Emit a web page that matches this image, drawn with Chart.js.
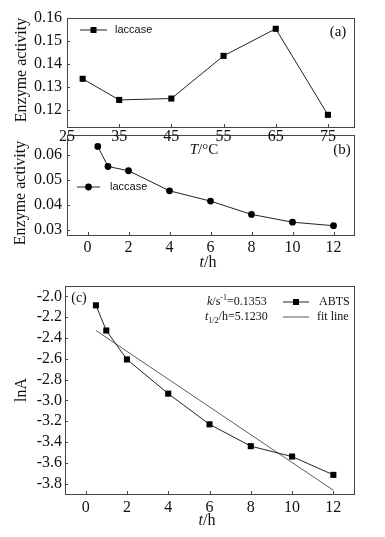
<!DOCTYPE html>
<html>
<head>
<meta charset="utf-8">
<script src="https://cdn.jsdelivr.net/npm/chart.js@4.4.1/dist/chart.umd.min.js"></script>
<style>
  html,body{margin:0;padding:0;background:#fff;}
  #wrap{position:relative;width:385px;height:537px;background:#fff;overflow:hidden;}
  #wrap canvas{position:absolute;left:0;}
</style>
</head>
<body>
<div id="wrap">
  <canvas id="cb" width="385" height="160" style="top:120px"></canvas>
  <canvas id="ca" width="385" height="160" style="top:0px"></canvas>
  <canvas id="cc" width="385" height="267" style="top:270px"></canvas>
</div>
<script>
// (a) activity vs temperature
const A_TEMP=[28,35,45,55,65,75];
const A_ACT=[0.1335,0.1243,0.1249,0.1435,0.1553,0.1178];
const A_XTICKS=[25,35,45,55,65,75];
const A_YTICKS=[0.12,0.13,0.14,0.15,0.16];

// (b) activity vs time
const B_TIME=[0.5,1,2,4,6,8,10,12];
const B_ACT=[0.0633,0.0553,0.0536,0.0456,0.0415,0.0362,0.0331,0.0317];
const B_XTICKS=[0,2,4,6,8,10,12];
const B_YTICKS=[0.03,0.04,0.05,0.06];

// (c) lnA vs time + fit
const C_TIME=[0.5,1,2,4,6,8,10,12];
const C_LNA=[-2.086,-2.328,-2.606,-2.935,-3.23,-3.44,-3.54,-3.716];
const FIT_T=[0.5,12];
const FIT_LNA=[-2.328,-3.864];
const C_XTICKS=[0,2,4,6,8,10,12];
const C_YTICKS=[-3.8,-3.6,-3.4,-3.2,-3.0,-2.8,-2.6,-2.4,-2.2,-2.0];

const SERIF='"Liberation Serif", "Times New Roman", serif';
const SANS='"Liberation Sans", Arial, sans-serif';
const INK='#222';

// draw a run of text pieces with their own font and vertical shift
function rich(ctx,x,y,parts,align){
  let w=0;
  parts.forEach(p=>{ ctx.font=p.f; w+=ctx.measureText(p.t).width; });
  let cx=align==='center'?x-w/2:x;
  ctx.textBaseline='middle'; ctx.textAlign='left'; ctx.fillStyle='#111';
  parts.forEach(p=>{
    ctx.font=p.f; ctx.fillText(p.t,cx,y+(p.dy||0));
    cx+=ctx.measureText(p.t).width;
  });
}

function vtext(ctx,x,y,txt,font){
  ctx.save(); ctx.translate(x,y); ctx.rotate(-Math.PI/2);
  ctx.font=font; ctx.fillStyle='#111'; ctx.textAlign='center'; ctx.textBaseline='middle';
  ctx.fillText(txt,0,0); ctx.restore();
}

function legLine(ctx,x1,x2,y,marker){
  ctx.strokeStyle=INK; ctx.lineWidth=1;
  ctx.beginPath(); ctx.moveTo(x1,y); ctx.lineTo(x2,y); ctx.stroke();
  ctx.fillStyle='#000';
  const m=(x1+x2)/2;
  if(marker==='rect') ctx.fillRect(m-3,y-3,6,6);
  if(marker==='circle'){ ctx.beginPath(); ctx.arc(m,y,3.4,0,Math.PI*2); ctx.fill(); }
}

// frame + inward tick marks + panel extras
function deco(extra){
  return {id:'deco',afterDraw(chart){
    const ctx=chart.ctx, a=chart.chartArea;
    ctx.save();
    ctx.strokeStyle='#444'; ctx.lineWidth=1;
    ctx.strokeRect(Math.round(a.left)+0.5,Math.round(a.top)+0.5,Math.round(a.right-a.left),Math.round(a.bottom-a.top));
    const xs=chart.scales.x, ys=chart.scales.y;
    ctx.beginPath();
    xs.ticks.forEach(t=>{ const px=Math.round(xs.getPixelForValue(t.value))+0.5;
      ctx.moveTo(px,a.bottom); ctx.lineTo(px,a.bottom-3); });
    ys.ticks.forEach(t=>{ const py=Math.round(ys.getPixelForValue(t.value))+0.5;
      ctx.moveTo(a.left,py); ctx.lineTo(a.left+3,py); });
    ctx.stroke();
    extra(ctx,chart);
    ctx.restore();
  }};
}

function axis(min,max,ticks,fmt,pad,size,fit,isX){
  return {type:'linear',min,max,
    grid:{display:false,drawTicks:false},
    border:{display:false},
    afterBuildTicks:s=>{ s.ticks=ticks.map(v=>({value:v})); },
    afterFit:s=>{ if(isX) s.height=fit; else s.width=fit; },
    ticks:{padding:pad,color:'#111',font:{family:SERIF,size},callback:v=>fmt(v)}};
}

function lineSet(xs,ys,style,r,width,color){
  return {data:xs.map((x,i)=>({x,y:ys[i]})),borderColor:color||INK,borderWidth:width||1,
    pointStyle:style,pointRadius:r,pointBackgroundColor:'#000',pointBorderWidth:0,
    tension:0,fill:false};
}

const base={responsive:false,animation:false,devicePixelRatio:1,
  plugins:{legend:{display:false},tooltip:{enabled:false}}};

// panel (b) — drawn underneath (a)
new Chart(document.getElementById('cb'),{type:'line',
  data:{datasets:[lineSet(B_TIME,B_ACT,'circle',3.4)]},
  options:{...base,layout:{padding:{left:0,top:7,right:31,bottom:0}},
    scales:{x:axis(-1,13,B_XTICKS,v=>String(v),3,16,45,true),
            y:axis(0.028,0.068,B_YTICKS,v=>v.toFixed(2),5,16,67,false)}},
  plugins:[deco((ctx)=>{
    vtext(ctx,21,73,'Enzyme activity','16px '+SERIF);
    rich(ctx,342,30,[{t:'(b)',f:'15px '+SERIF}],'center');
    legLine(ctx,77,100,67,'circle');
    rich(ctx,110,67,[{t:'laccase',f:'11px '+SANS}]);
    rich(ctx,208,143,[{t:'t',f:'italic 16px '+SERIF},{t:'/h',f:'16px '+SERIF}],'center');
  })]});

// panel (a)
new Chart(document.getElementById('ca'),{type:'line',
  data:{datasets:[lineSet(A_TEMP,A_ACT,'rect',4.3)]},
  options:{...base,layout:{padding:{left:0,top:18,right:31,bottom:0}},
    scales:{x:axis(25,80,A_XTICKS,v=>String(v),0,16,33,true),
            y:axis(0.1125,0.16,A_YTICKS,v=>v.toFixed(2),5,16,67,false)}},
  plugins:[deco((ctx)=>{
    vtext(ctx,22,70,'Enzyme activity','16px '+SERIF);
    rich(ctx,338,32,[{t:'(a)',f:'15px '+SERIF}],'center');
    legLine(ctx,80,107,30,'rect');
    rich(ctx,115,30,[{t:'laccase',f:'11px '+SANS}]);
    rich(ctx,204,150,[{t:'T',f:'italic 15px '+SERIF},{t:'/°C',f:'15px '+SERIF}],'center');
  })]});

// panel (c)
new Chart(document.getElementById('cc'),{type:'line',
  data:{datasets:[
    lineSet(C_TIME,C_LNA,'rect',4.3),
    lineSet(FIT_T,FIT_LNA,'circle',0,0.8,'#333')]},
  options:{...base,layout:{padding:{left:0,top:16,right:31,bottom:0}},
    scales:{x:axis(-1,13,C_XTICKS,v=>String(v),4,16,43,true),
            y:axis(-3.9,-1.9,C_YTICKS,v=>v.toFixed(1),3,16,65,false)}},
  plugins:[deco((ctx)=>{
    vtext(ctx,21.5,120,'lnA','16px '+SERIF);
    rich(ctx,79,28,[{t:'(c)',f:'14px '+SERIF}],'center');
    rich(ctx,207,32,[{t:'k',f:'italic 12px '+SERIF},{t:'/s',f:'12px '+SERIF},
      {t:'-1',f:'8px '+SERIF,dy:-4},{t:'=0.1353',f:'12px '+SERIF}]);
    rich(ctx,205,47,[{t:'t',f:'italic 12px '+SERIF},{t:'1/2',f:'8px '+SERIF,dy:4},
      {t:'/h=5.1230',f:'12px '+SERIF}]);
    legLine(ctx,283,309,32,'rect');
    rich(ctx,319,32,[{t:'ABTS',f:'12px '+SERIF}]);
    ctx.strokeStyle='#333'; ctx.lineWidth=0.8;
    ctx.beginPath(); ctx.moveTo(283,47); ctx.lineTo(309,47); ctx.stroke();
    rich(ctx,317,47,[{t:'fit line',f:'12px '+SERIF}]);
    rich(ctx,207,251,[{t:'t',f:'italic 16px '+SERIF},{t:'/h',f:'16px '+SERIF}],'center');
  })]});
</script>
</body>
</html>
